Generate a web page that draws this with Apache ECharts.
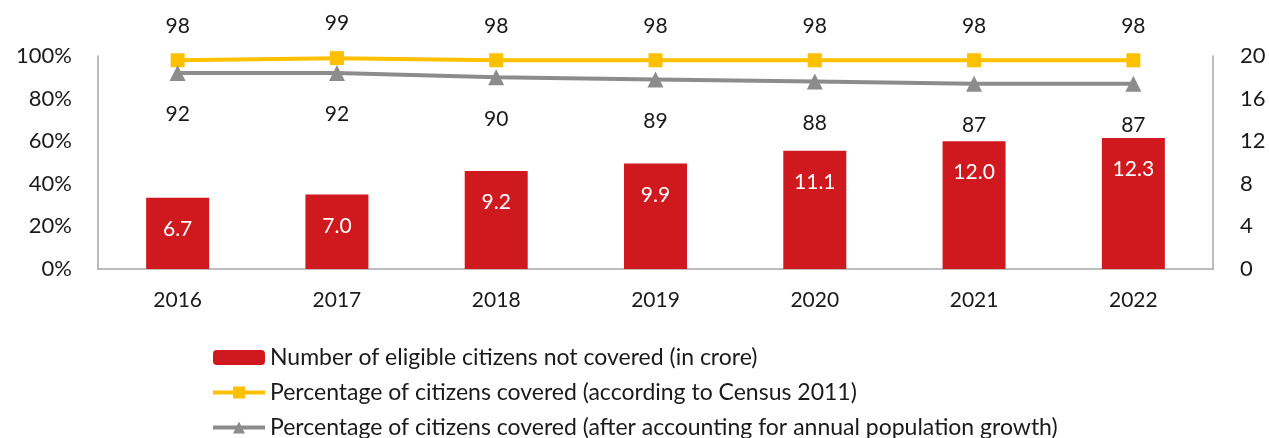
<!DOCTYPE html>
<html>
<head>
<meta charset="utf-8">
<script src="https://cdn.jsdelivr.net/npm/echarts@6/dist/echarts.min.js"></script>
<style>
  html, body { margin: 0; padding: 0; background: #fff; }
  #chart { width: 1269px; height: 438px; }
</style>
</head>
<body>
<div id="chart"></div>
<script>
// categories
const years = ['2016', '2017', '2018', '2019', '2020', '2021', '2022']
// number of eligible citizens not covered (crore) - right axis
const notCovered = [6.7, 7.0, 9.2, 9.9, 11.1, 12.0, 12.3]
// percentage covered, census 2011 basis - left axis
const coveredCensus = [98, 99, 98, 98, 98, 98, 98]
// percentage covered, after population growth - left axis
const coveredGrowth = [92, 92, 90, 89, 88, 87, 87]

const seriesNames = [
  'Number of eligible citizens not covered (in crore)',
  'Percentage of citizens covered (according to Census 2011)',
  'Percentage of citizens covered (after accounting for annual population growth)'
]

const font = 'Lato'
const axisColor = '#a6a6a6'

const chart = echarts.init(document.getElementById('chart'))
chart.setOption({
  animation: false,
  textStyle: { fontFamily: font },
  grid: {
    left: 98,
    right: 56,
    top: 56,
    bottom: 169
  },
  legend: {
    orient: 'vertical',
    left: 206,
    top: 341,
    height: 200,
    itemWidth: 52,
    itemHeight: 15,
    itemGap: 12,
    selectedMode: false,
    lineStyle: { width: 4 },
    textStyle: {
      fontFamily: font,
      fontSize: 23,
      color: '#1a1a1a'
    },
    data: seriesNames
  },
  xAxis: {
    type: 'category',
    data: years,
    axisLine: { show: true, lineStyle: { color: axisColor, width: 1.5 } },
    axisTick: { show: false },
    axisLabel: {
      color: '#1a1a1a',
      fontSize: 21,
      margin: 21
    }
  },
  yAxis: [
    { // 左轴 百分比
      type: 'value',
      min: 0,
      max: 100,
      interval: 20,
      axisLine: { show: true, lineStyle: { color: axisColor, width: 1.5 } },
      axisTick: { show: false },
      splitLine: { show: false },
      axisLabel: {
        formatter: '{value}%',
        color: '#1a1a1a',
        fontSize: 22,
        margin: 26
      }
    },
    { // 右轴 人数
      type: 'value',
      min: 0,
      max: 20,
      interval: 4,
      position: 'right',
      axisLine: { show: true, lineStyle: { color: axisColor, width: 1.5 } },
      axisTick: { show: false },
      splitLine: { show: false },
      axisLabel: {
        color: '#1a1a1a',
        fontSize: 22,
        margin: 27
      }
    }
  ],
  series: [
    {
      name: seriesNames[0],
      type: 'bar',
      yAxisIndex: 1,
      barWidth: 63,
      data: notCovered,
      itemStyle: { color: '#d0191f' },
      label: {
        show: true,
        position: 'insideTop',
        distance: 21,
        color: '#fff',
        fontSize: 21,
        formatter: p => p.value.toFixed(1)
      }
    },
    {
      name: seriesNames[1],
      type: 'line',
      yAxisIndex: 0,
      data: coveredCensus,
      symbol: 'rect',
      symbolSize: 14,
      lineStyle: { color: '#ffc000', width: 4 },
      itemStyle: { color: '#ffc000' },
      label: {
        show: true,
        position: 'top',
        distance: 17,
        color: '#1a1a1a',
        fontSize: 21
      }
    },
    {
      name: seriesNames[2],
      type: 'line',
      yAxisIndex: 0,
      data: coveredGrowth,
      symbol: 'triangle',
      symbolSize: 16,
      lineStyle: { color: '#8c8c8c', width: 4 },
      itemStyle: { color: '#8c8c8c' },
      label: {
        show: true,
        position: 'bottom',
        distance: 23,
        color: '#1a1a1a',
        fontSize: 21
      }
    }
  ]
})
</script>
</body>
</html>
